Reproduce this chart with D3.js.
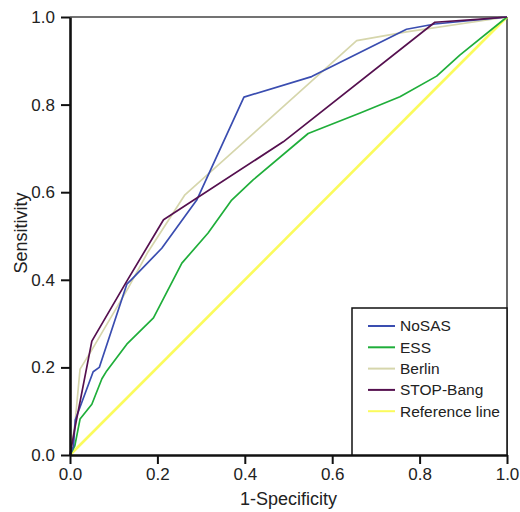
<!DOCTYPE html>
<html>
<head>
<meta charset="utf-8">
<script src="https://cdn.jsdelivr.net/npm/d3@7"></script>
<style>
  body { margin: 0; background: #fff; }
  .chart text { font-family: "Liberation Sans", Arial, Helvetica, sans-serif; fill: #222; }
</style>
</head>
<body>
<div class="chart"></div>
<script>
// ROC curves
const nosasX = [0, 0.008, 0.012, 0.053, 0.067, 0.13, 0.14, 0.21, 0.29, 0.398, 0.553, 0.77, 0.835, 1];
const nosasY = [0, 0.02, 0.08, 0.19, 0.20, 0.39, 0.40, 0.472, 0.582, 0.817, 0.864, 0.972, 0.984, 1];

const essX = [0, 0.011, 0.023, 0.050, 0.073, 0.084, 0.130, 0.191, 0.256, 0.316, 0.370, 0.419, 0.545, 0.664, 0.755, 0.839, 0.892, 1];
const essY = [0, 0.021, 0.082, 0.116, 0.174, 0.192, 0.253, 0.313, 0.438, 0.507, 0.582, 0.628, 0.734, 0.781, 0.818, 0.865, 0.913, 1];

const berlinX = [0, 0.011, 0.023, 0.050, 0.133, 0.178, 0.263, 0.656, 0.770, 1];
const berlinY = [0, 0.068, 0.196, 0.24, 0.381, 0.463, 0.594, 0.946, 0.966, 1];

const stopX = [0, 0.011, 0.050, 0.130, 0.214, 0.488, 0.835, 0.94, 1];
const stopY = [0, 0.06, 0.26, 0.397, 0.537, 0.715, 0.988, 0.995, 1];

const refX = [0, 1];
const refY = [0, 1];

const seriesNames = ['NoSAS', 'ESS', 'Berlin', 'STOP-Bang', 'Reference line'];
const seriesColors = ['#3a4db0', '#1fae3a', '#d6d6ac', '#55104f', '#fbfb5c'];
const tickValues = [0, 0.2, 0.4, 0.6, 0.8, 1.0];

const margin = {top:17, left:70, bottom:57, right:13};
const width = 520 - margin.left - margin.right;
const height = 512 - margin.top - margin.bottom;

const svg = d3.select('.chart')
    .append('svg')
    .attr('width', width + margin.left + margin.right)
    .attr('height', height + margin.top + margin.bottom)
    .append('g')
    .attr('transform', 'translate('+margin.left+','+margin.top+')');

const xScale = d3.scaleLinear().domain([0,1]).range([0, width]);
const yScale = d3.scaleLinear().domain([0,1]).range([height, 0]);

const allSeries = [
    {x: nosasX, y: nosasY},
    {x: essX, y: essY},
    {x: berlinX, y: berlinY},
    {x: stopX, y: stopY},
    {x: refX, y: refY}
].map((s,i) => ({
    name: seriesNames[i],
    color: seriesColors[i],
    points: s.x.map((v,j) => [v, s.y[j]])
}));

const line = d3.line()
    .x(d => xScale(d[0]))
    .y(d => yScale(d[1]));

// frame top and right
svg.append('line')
    .attr('x1',0).attr('x2',width).attr('y1',0).attr('y2',0)
    .attr('stroke','#444').attr('stroke-width',1.6);
svg.append('line')
    .attr('x1',width).attr('x2',width).attr('y1',0).attr('y2',height)
    .attr('stroke','#444').attr('stroke-width',1.6);

// reference line first so the curves sit on top
const order = [4, 1, 2, 0, 3];
order.forEach(i => {
    const s = allSeries[i];
    svg.append('path')
        .datum(s.points)
        .attr('fill','none')
        .attr('stroke', s.color)
        .attr('stroke-width', i==4 ? 2.6 : 1.7)
        .attr('stroke-linejoin','round')
        .attr('d', line);
});

const xAxis = d3.axisBottom(xScale)
    .tickValues(tickValues)
    .tickFormat(d3.format('.1f'))
    .tickSize(9).tickSizeOuter(0).tickPadding(4);
const yAxis = d3.axisLeft(yScale)
    .tickValues(tickValues)
    .tickFormat(d3.format('.1f'))
    .tickSize(9).tickSizeOuter(0).tickPadding(6);

const gx = svg.append('g')
    .attr('class','x-axis')
    .attr('transform', `translate(0, ${height})`)
    .call(xAxis);
const gy = svg.append('g')
    .attr('class','y-axis')
    .call(yAxis);

[gx, gy].forEach(g => {
    g.select('.domain').attr('stroke','#111').attr('stroke-width',2.6);
    g.selectAll('.tick line').attr('stroke','#111').attr('stroke-width',2);
    g.selectAll('.tick text').attr('font-size',17).attr('fill','#222');
});

// legend
const legX = 282, legY = 291;
svg.append('rect')
    .attr('x', legX).attr('y', legY)
    .attr('width', width - legX).attr('height', height - legY)
    .attr('fill','#fff')
    .attr('stroke','#111').attr('stroke-width',1.5);

const leg = svg.selectAll('.legend-item')
    .data(allSeries)
    .enter()
    .append('g')
    .attr('class','legend-item')
    .attr('transform', (d,i) => 'translate('+(legX+16)+','+(legY+18+i*21.3)+')');

leg.append('line')
    .attr('x1',0).attr('x2',27)
    .attr('stroke', d => d.color)
    .attr('stroke-width',2);
leg.append('text')
    .attr('x',32)
    .attr('dy','0.35em')
    .attr('font-size',15.5)
    .text(d => d.name);

// axis titles
svg.append('text')
    .attr('x', width/2)
    .attr('y', height+50)
    .attr('text-anchor','middle')
    .attr('font-size',18)
    .text('1-Specificity');

svg.append('text')
    .attr('transform','rotate(-90)')
    .attr('x', -height/2 + 3)
    .attr('y', -43)
    .attr('text-anchor','middle')
    .attr('font-size',18)
    .text('Sensitivity');
</script>
</body>
</html>
